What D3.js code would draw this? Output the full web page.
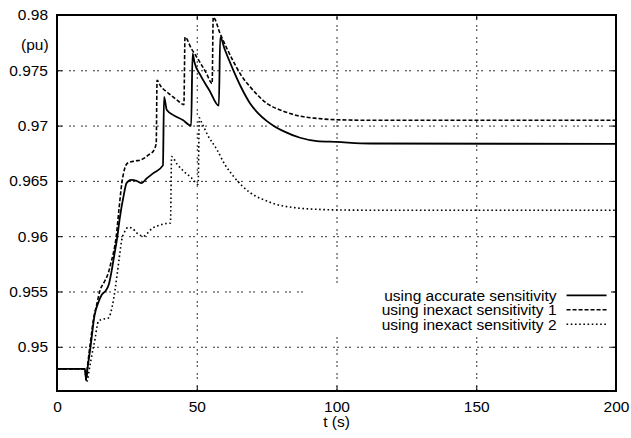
<!DOCTYPE html>
<html>
<head>
<meta charset="utf-8">
<script src="https://cdn.jsdelivr.net/npm/d3@7"></script>
<style>
  body { margin: 0; background: #fff; }
  svg text { font-family: "Liberation Sans", Arial, Helvetica, sans-serif; font-size: 15.5px; fill: #000; }
</style>
</head>
<body>
<svg width="631" height="438"></svg>
<script>
// The svg
var svg = d3.select("svg"),
    margin = {top: 15, right: 15, bottom: 47, left: 57},
    width = +svg.attr("width") - margin.left - margin.right,
    height = +svg.attr("height") - margin.top - margin.bottom;

// Data: time (s) and voltage (pu)
var tAccurate = [0, 10, 10.4, 11, 12, 13.4, 14.8, 16, 17.5, 18.5, 19.5, 20.5, 21.5, 22.5, 23.8, 24.9, 26.5, 28.5, 30.3, 32, 34.5, 37.9,
  38.3, 39.3, 42, 45, 48.0, 48.5, 49.2, 51.2, 54.5, 57.9, 58.4, 60, 63.1, 66, 69.1, 72, 75.1, 78, 81, 87, 93, 100, 112, 200];
var vAccurate = [0.948, 0.948, 0.9471, 0.9482, 0.9500, 0.9528, 0.9540, 0.9547, 0.9551, 0.9556, 0.9568, 0.9583, 0.9598, 0.9617, 0.9636, 0.9648, 0.9651, 0.9650, 0.9648, 0.9652, 0.9657, 0.9664,
  0.9726, 0.9714, 0.9709, 0.9705, 0.9700, 0.9765, 0.9757, 0.9746, 0.9732, 0.9718, 0.9780, 0.9769, 0.9750, 0.9734, 0.9720, 0.9711, 0.9704, 0.9699, 0.9695, 0.9689, 0.9686, 0.96852, 0.96838, 0.96835];

var tInexact1 = [0, 10, 10.4, 11, 12, 13.2, 14.2, 15.4, 17, 18.4, 19.3, 20.2, 21.2, 22.2, 23.2, 24.2, 25.2, 27.9, 30, 31.5, 33, 34.5, 35.5,
  35.8, 37, 40, 43, 45.4, 45.8, 48, 51.2, 53.5, 55.5, 55.9, 58.4, 63.1, 66, 69.1, 72, 75.1, 78, 81, 87, 93, 100, 113, 200];
var vInexact1 = [0.948, 0.948, 0.9470, 0.9484, 0.9505, 0.9527, 0.9538, 0.9551, 0.9559, 0.9567, 0.9576, 0.9585, 0.9600, 0.9625, 0.9648, 0.9661, 0.9666, 0.9668, 0.9669, 0.9671, 0.9674, 0.9677, 0.9684,
  0.9741, 0.9736, 0.9729, 0.9723, 0.9719, 0.9780, 0.9770, 0.9757, 0.9747, 0.9738, 0.9798, 0.9783, 0.9758, 0.9745, 0.9735, 0.9727, 0.9720, 0.9716, 0.9713, 0.97085, 0.97065, 0.97053, 0.97048, 0.97048];

var tInexact2 = [0, 10, 10.5, 11.8, 12.8, 13.6, 14.3, 14.8, 16.5, 18.4, 19.8, 20.8, 21.5, 22.2, 23.2, 24.2, 25.5, 27, 28.5, 30.9, 32.5, 34, 35.7, 38, 40.6,
  41.0, 43, 45.2, 48, 50.5, 50.9, 51.5, 54, 57.2, 60, 63.1, 66, 69.1, 72, 75.1, 78, 81, 87, 93, 100, 112, 200];
var vInexact2 = [0.948, 0.948, 0.9468, 0.9483, 0.9497, 0.9507, 0.9518, 0.9523, 0.9525, 0.9526, 0.9537, 0.9552, 0.9565, 0.9579, 0.9597, 0.9604, 0.9608, 0.9607, 0.9603, 0.9600, 0.9603, 0.9607, 0.9609, 0.9611, 0.9612,
  0.9672, 0.9665, 0.9659, 0.9653, 0.9647, 0.9707, 0.9704, 0.9691, 0.96784, 0.9665, 0.96543, 0.9646, 0.96394, 0.9635, 0.96318, 0.9629, 0.96273, 0.96252, 0.96243, 0.96237, 0.96235, 0.96235];

var seriesNames = ["using accurate sensitivity", "using inexact sensitivity 1", "using inexact sensitivity 2"];
var xTicks = [0, 50, 100, 150, 200];
var yTicks = [0.95, 0.955, 0.96, 0.965, 0.97, 0.975, 0.98];

var series = [
  {name: seriesNames[0], t: tAccurate, v: vAccurate, dash: null, lw: 1.8},
  {name: seriesNames[1], t: tInexact1, v: vInexact1, dash: "4,2", lw: 1.6},
  {name: seriesNames[2], t: tInexact2, v: vInexact2, dash: "1.6,2.6", lw: 1.6}
];

var g = svg.append("g").attr("transform", "translate(" + margin.left + "," + margin.top + ")");

// Scales
var x = d3.scaleLinear().domain([0, 200]).range([0, width]);
var y = d3.scaleLinear().domain([0.946, 0.98]).range([height, 0]);

// Grid (only inside, the borders take the end ticks)
var gridDash = "2,2,2,6";
g.append("g")
  .attr("class", "grid")
  .call(d3.axisLeft(y).tickValues(yTicks.filter(function(d){ return d < 0.98 })).tickSize(-width).tickFormat(""))
  .call(function(s){ s.select(".domain").remove() })
  .selectAll("line").attr("stroke", "#333").attr("stroke-dasharray", gridDash);
g.append("g")
  .attr("class", "grid")
  .attr("transform", "translate(0," + height + ")")
  .call(d3.axisBottom(x).tickValues(xTicks.filter(function(d){ return d > 0 && d < 200 })).tickSize(-height).tickFormat(""))
  .call(function(s){ s.select(".domain").remove() })
  .selectAll("line").attr("stroke", "#333").attr("stroke-dasharray", gridDash);

// Lines
var line = d3.line()
  .x(function(d){ return x(d[0]) })
  .y(function(d){ return y(d[1]) })
  .curve(d3.curveMonotoneX);

series.forEach(function(s){
  var pts = s.t.map(function(t, i){ return [t, s.v[i]] });
  g.append("path")
    .datum(pts)
    .attr("fill", "none")
    .attr("stroke", "black")
    .attr("stroke-width", s.lw)
    .attr("stroke-dasharray", s.dash)
    .attr("d", line);
});

// Key with white box
var key = g.append("g").attr("transform", "translate(" + (x(90) - 1) + "," + (y(0.95555) ) + ")");
key.append("rect").attr("x", 0).attr("y", 0).attr("width", 305).attr("height", 48).attr("fill", "white");
series.forEach(function(s, i){
  var yy = 10 + i * 14.4;
  key.append("text").attr("x", 249).attr("y", yy).attr("dy", "0.35em").attr("text-anchor", "end").text(s.name);
  key.append("line").attr("x1", 259).attr("x2", 299).attr("y1", yy).attr("y2", yy)
    .attr("stroke", "black").attr("stroke-width", s.lw).attr("stroke-dasharray", s.dash);
});

// Inward tick marks on every side
g.append("g").call(d3.axisLeft(y).tickValues(yTicks).tickSize(-5).tickFormat("")).select(".domain").remove();
g.append("g").attr("transform", "translate(" + width + ",0)")
  .call(d3.axisRight(y).tickValues(yTicks).tickSize(-5).tickFormat("")).select(".domain").remove();
g.append("g").attr("transform", "translate(0," + height + ")")
  .call(d3.axisBottom(x).tickValues(xTicks).tickSize(-5).tickFormat("")).select(".domain").remove();
g.append("g")
  .call(d3.axisTop(x).tickValues(xTicks).tickSize(-5).tickFormat("")).select(".domain").remove();

// Tick labels
g.append("g")
  .call(d3.axisLeft(y).tickValues(yTicks).tickSize(0).tickPadding(9).tickFormat(d3.format("")))
  .call(function(s){ s.select(".domain").remove() })
  .selectAll("text").attr("font-size", null).attr("font-family", null);
g.append("g")
  .attr("transform", "translate(0," + height + ")")
  .call(d3.axisBottom(x).tickValues(xTicks).tickSize(0).tickPadding(10))
  .call(function(s){ s.select(".domain").remove() })
  .selectAll("text").attr("font-size", null).attr("font-family", null);

// Border
g.append("rect").attr("width", width).attr("height", height)
  .attr("fill", "none").attr("stroke", "black").attr("stroke-width", 2);

// Axis labels
svg.append("text").attr("x", 21).attr("y", 45).attr("dy", "0.35em").text("(pu)");
svg.append("text").attr("x", margin.left + width / 2).attr("y", 422).attr("dy", "0.35em")
  .attr("text-anchor", "middle").text("t (s)");
</script>
</body>
</html>
